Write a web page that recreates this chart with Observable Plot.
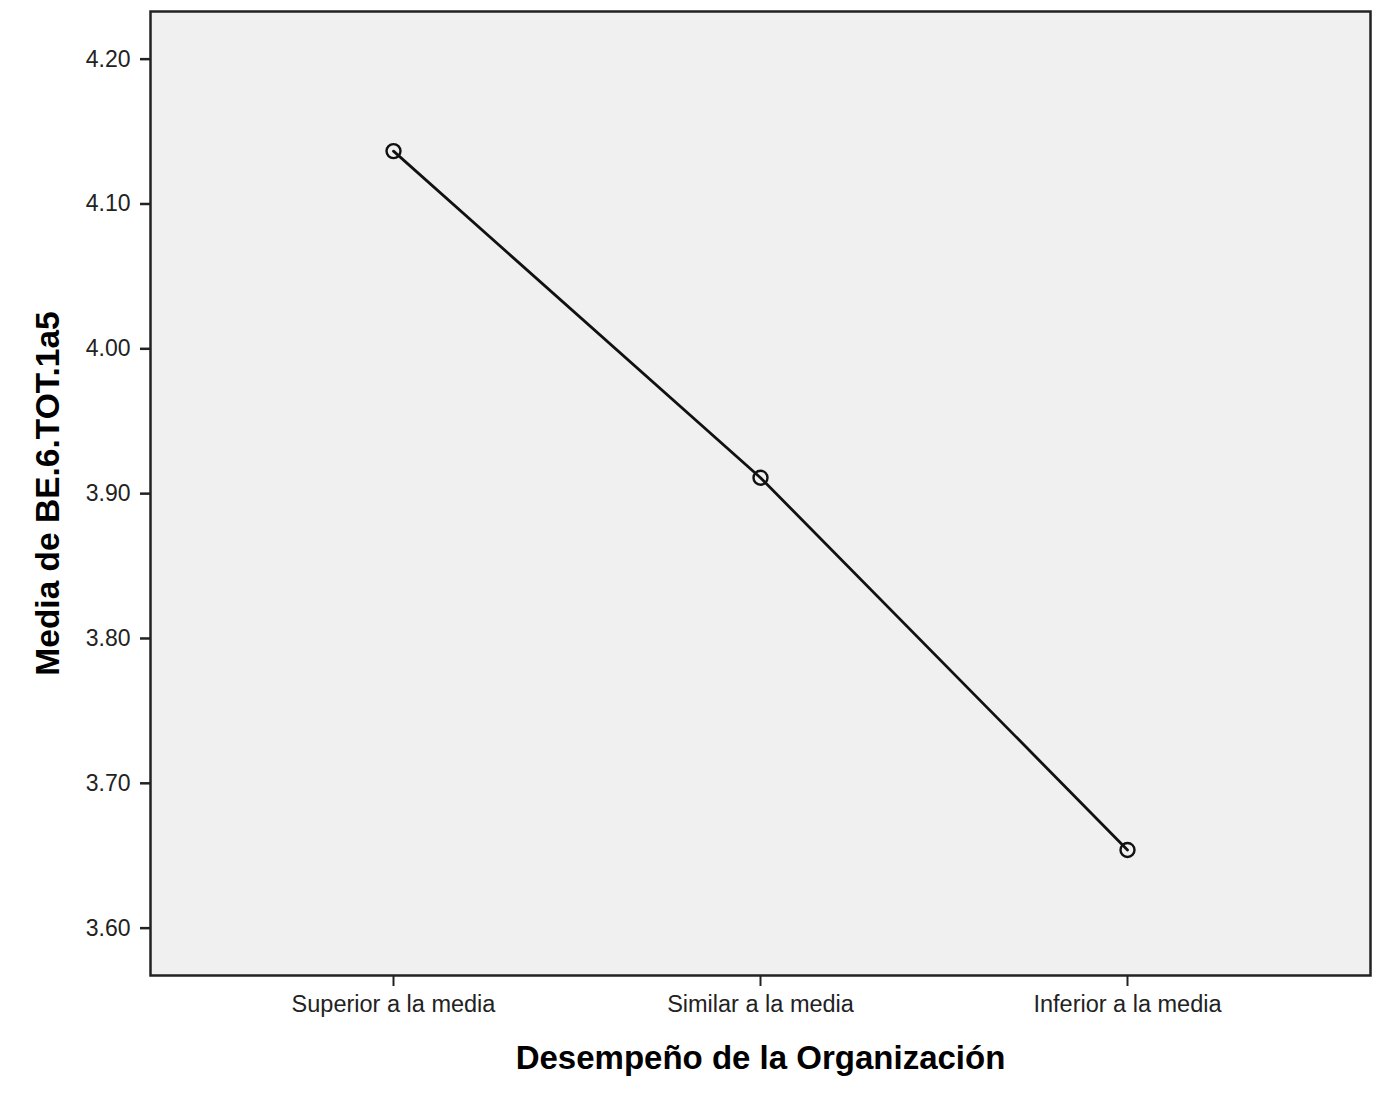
<!DOCTYPE html>
<html>
<head>
<meta charset="utf-8">
<script src="https://cdn.jsdelivr.net/npm/d3@7"></script>
<script src="https://cdn.jsdelivr.net/npm/@observablehq/plot@0.6"></script>
<style>
  html, body { margin: 0; padding: 0; background: #fff; }
</style>
</head>
<body>
<div id="chart"></div>
<script>
const categories = ["Superior a la media", "Similar a la media", "Inferior a la media"];
const means = [4.1365, 3.911, 3.654];
const yTicks = [3.6, 3.7, 3.8, 3.9, 4.0, 4.1, 4.2];
const xTitle = "Desempeño de la Organización";
const yTitle = "Media de BE.6.TOT.1a5";

const data = categories.map((c, i) => ({category: c, mean: means[i]}));

const chart = Plot.plot({
  width: 1387,
  height: 1108,
  marginLeft: 150,
  marginRight: 17,
  marginTop: 11,
  marginBottom: 133,
  style: {fontFamily: "'Liberation Sans', Arial, sans-serif", background: "#fff", color: "#222"},
  x: {type: "point", domain: categories, padding: 0.66, label: null},
  y: {domain: [3.5673, 4.2329], label: null},
  marks: [
    Plot.frame({fill: "#f0f0f0", stroke: "none"}),
    Plot.axisY({ticks: yTicks, tickFormat: d3.format(".2f"), tickSize: 10, tickPadding: 10, fontSize: 23, stroke: "#222", strokeWidth: 2.5, label: null}),
    Plot.axisX({tickSize: 11, tickPadding: 9, fontSize: 23.5, stroke: "#222", strokeWidth: 2, label: null}),
    Plot.line(data, {x: "category", y: "mean", stroke: "#111", strokeWidth: 2.8}),
    Plot.dot(data, {x: "category", y: "mean", r: 7, stroke: "#111", strokeWidth: 2.4, fill: "none"}),
    Plot.frame({stroke: "#222", strokeWidth: 2.5}),
    Plot.text([xTitle], {frameAnchor: "bottom", dy: 93, fontSize: 33, fontWeight: "bold", fill: "#000"}),
    Plot.text([yTitle], {frameAnchor: "left", textAnchor: "middle", dx: -102, rotate: -90, fontSize: 33.5, fontWeight: "bold", fill: "#000"})
  ]
});
document.getElementById("chart").append(chart);
</script>
</body>
</html>
